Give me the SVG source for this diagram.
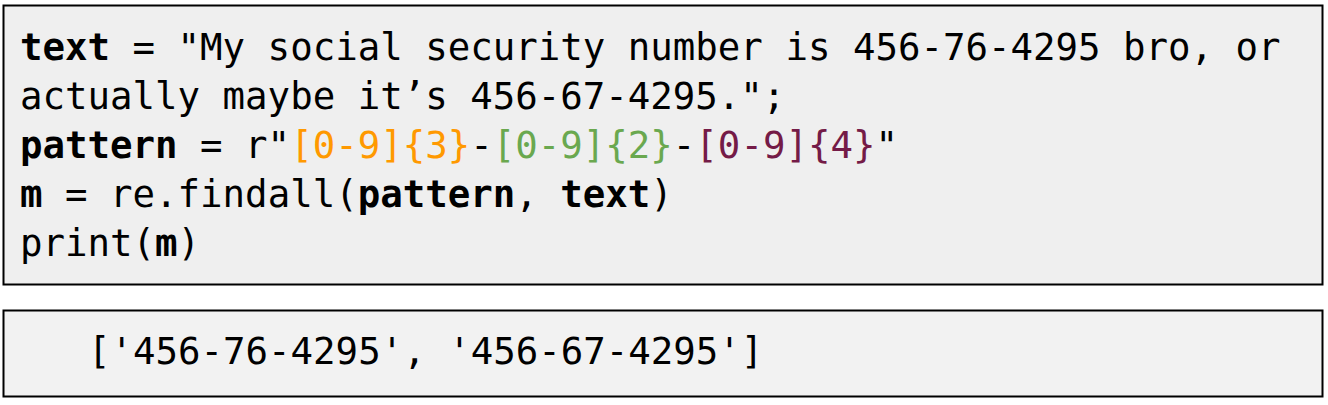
<svg xmlns="http://www.w3.org/2000/svg" width="1328" height="405" viewBox="0 0 1328 405">
<style>
.box{stroke:#000;stroke-width:2}
.code{font-family:"DejaVu Sans Mono","Liberation Mono",monospace;font-size:37.4px;fill:#000;white-space:pre}
.b{font-weight:bold}
.o{fill:#ff9900}
.g{fill:#6aa84f}
.p{fill:#741b47}
</style>
<rect width="1328" height="405" fill="#fff"/>
<g id="code-block">
<rect class="box" x="3.5" y="5.5" width="1319" height="279" fill="#efefef"/>
<text class="code" x="20" y="60" xml:space="preserve"><tspan class="b">text</tspan> = "My social security number is 456-76-4295 bro, or</text>
<text class="code" x="20" y="109" xml:space="preserve">actually maybe it’s 456-67-4295.";</text>
<text class="code" x="20" y="158" xml:space="preserve"><tspan class="b">pattern</tspan> = r"<tspan class="o">[0-9]{3}</tspan>-<tspan class="g">[0-9]{2}</tspan>-<tspan class="p">[0-9]{4}</tspan>"</text>
<text class="code" x="20" y="207" xml:space="preserve"><tspan class="b">m</tspan> = re.findall(<tspan class="b">pattern</tspan>, <tspan class="b">text</tspan>)</text>
<text class="code" x="20" y="256" xml:space="preserve">print(<tspan class="b">m</tspan>)</text>
</g>
<g id="output-block">
<rect class="box" x="3.5" y="310.5" width="1319" height="86" fill="#f2f2f2"/>
<text class="code" x="88" y="364" xml:space="preserve">['456-76-4295', '456-67-4295']</text>
</g>
<g id="connectors"/>
</svg>
